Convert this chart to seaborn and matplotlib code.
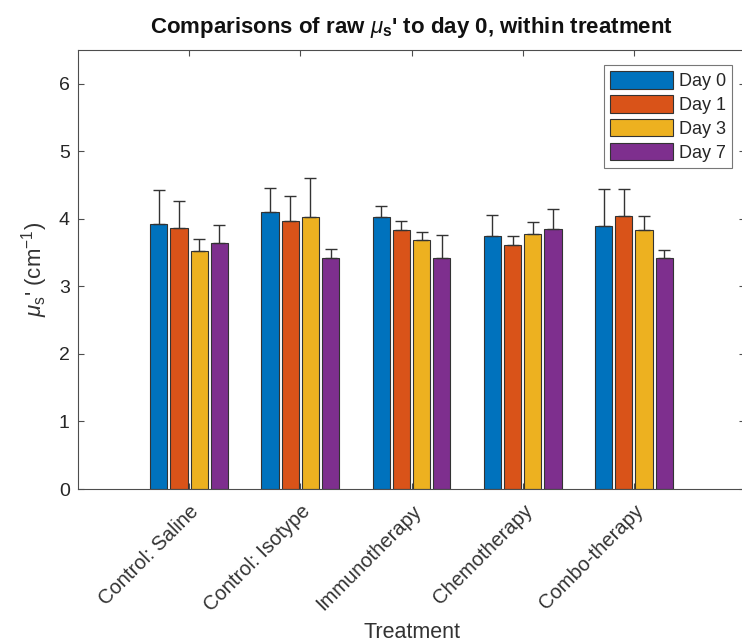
import matplotlib
matplotlib.use("Agg")
import matplotlib.pyplot as plt
import matplotlib.transforms as mtrans
import seaborn as sns
import pandas as pd
import numpy as np
from matplotlib.patches import Patch

treatments = ["Control: Saline", "Control: Isotype", "Immunotherapy", "Chemotherapy", "Combo-therapy"]
days = ["Day 0", "Day 1", "Day 3", "Day 7"]
day0 = [3.93, 4.10, 4.02, 3.74, 3.90]
day1 = [3.87, 3.97, 3.84, 3.61, 4.04]
day3 = [3.53, 4.02, 3.69, 3.78, 3.84]
day7 = [3.64, 3.42, 3.42, 3.85, 3.42]
err0 = [0.50, 0.36, 0.17, 0.32, 0.54]
err1 = [0.39, 0.37, 0.13, 0.13, 0.40]
err3 = [0.17, 0.59, 0.11, 0.17, 0.20]
err7 = [0.27, 0.13, 0.34, 0.29, 0.12]
colors = ["#0072BD", "#D95319", "#EDB120", "#7E2F8E"]

values = [day0, day1, day3, day7]
errors = [err0, err1, err3, err7]
rows = []
for d, vals in zip(days, values):
    for t, v in zip(treatments, vals):
        rows.append({"Treatment": t, "Day": d, "mus": v})
df = pd.DataFrame(rows)

sns.set_style("white")
plt.rcParams["font.family"] = ["Liberation Sans", "DejaVu Sans"]
plt.rcParams["mathtext.fontset"] = "custom"
plt.rcParams["mathtext.rm"] = "Liberation Sans"
plt.rcParams["mathtext.it"] = "Liberation Sans:italic"
plt.rcParams["mathtext.bf"] = "Liberation Sans:bold"

fig = plt.figure(figsize=(7.42, 6.44), dpi=100)
W, H = 742, 644
left, right, bottom, top = 78, 745, 489, 50
ax = fig.add_axes([left / W, 1 - bottom / H, (right - left) / W, (bottom - top) / H])

sns.barplot(data=df, x="Treatment", y="mus", hue="Day", order=treatments, hue_order=days,
            palette=colors, width=0.727, gap=0.15, errorbar=None, legend=False,
            edgecolor="#333333", linewidth=0.8, saturation=1, ax=ax)

for cont, errs in zip(ax.containers, errors):
    xs = [p.get_x() + p.get_width() / 2 for p in cont.patches]
    hs = [p.get_height() for p in cont.patches]
    ax.errorbar(xs, hs, yerr=[np.zeros(len(errs)), errs], fmt="none",
                ecolor="#333333", elinewidth=1.0, capsize=4.5, capthick=1.0, zorder=3)

ax.set_xlim(-1, 5)
ax.set_ylim(0, 6.5)
ax.set_yticks([0, 1, 2, 3, 4, 5, 6])
ax.set_yticklabels(["0", "1", "2", "3", "4", "5", "6"], fontsize=14, color="#262626")
ax.set_xticks(range(len(treatments)))
ax.set_xticklabels(treatments, rotation=45, ha="right", va="top",
                   rotation_mode="anchor", fontsize=14.5, color="#333333")
offset = mtrans.ScaledTranslation(4 / 100, -2 / 100, fig.dpi_scale_trans)
for lbl in ax.get_xticklabels():
    lbl.set_transform(lbl.get_transform() + offset)
ax.tick_params(axis="both", which="both", direction="in", length=4.5, width=0.8,
               color="#4d4d4d", top=True, right=True, bottom=True, left=True)
ax.tick_params(axis="x", pad=9)
ax.tick_params(axis="y", pad=6)
for s in ax.spines.values():
    s.set_visible(True)
    s.set_color("#4d4d4d")
    s.set_linewidth(0.8)

ax.set_xlabel("Treatment", fontsize=15.5, color="#333333", labelpad=5)
ax.set_ylabel(r"$\mu_{\rm s}$' (cm$^{-1}$)", fontsize=16, color="#333333", labelpad=6)
ax.set_title(r"Comparisons of raw $\mu_\mathbf{s}$' to day 0, within treatment",
             fontsize=16, fontweight="bold", color="#111111", pad=12)

handles = [Patch(facecolor=c, edgecolor="#333333", linewidth=0.8, label=d) for c, d in zip(colors, days)]
leg = ax.legend(handles=handles, loc="upper right", bbox_to_anchor=(732 / W, 1 - 65 / H),
                bbox_transform=fig.transFigure, borderaxespad=0, fontsize=13,
                handlelength=3.5, handleheight=1.1, labelspacing=0.28, handletextpad=0.3,
                borderpad=0.35, fancybox=False, frameon=True)
leg.get_frame().set_edgecolor("#555555")
leg.get_frame().set_linewidth(0.8)

fig.savefig("out.png", dpi=100)
